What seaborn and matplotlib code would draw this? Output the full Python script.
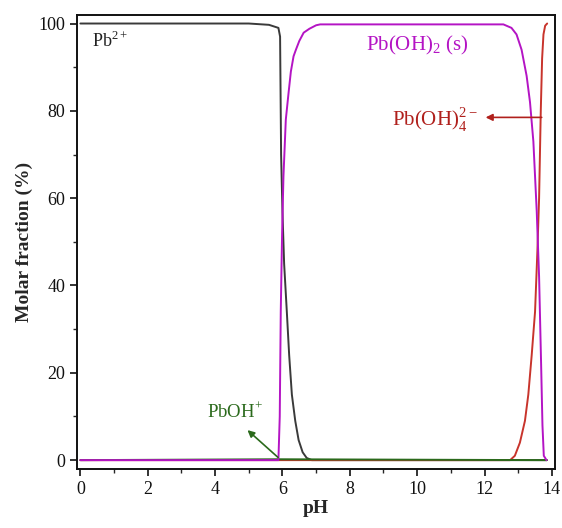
import numpy as np
import pandas as pd
import matplotlib
matplotlib.use("Agg")
import matplotlib.pyplot as plt
import seaborn as sns
from matplotlib.ticker import MultipleLocator

sns.set_style("ticks")
plt.rcParams['font.family'] = ['Liberation Serif', 'DejaVu Serif']
plt.rcParams['mathtext.fontset'] = 'custom'
plt.rcParams['mathtext.rm'] = 'Liberation Serif'

# Pb2+
ph_pb = [0.0, 5.0, 5.6, 5.88, 5.93, 5.96, 6.00, 6.05, 6.13, 6.20, 6.28, 6.38,
         6.48, 6.60, 6.72, 6.87, 13.85]
pb = [100, 100, 99.7, 99, 97, 70, 57, 45, 34, 24, 15, 9, 4.6, 1.8, 0.5, 0, 0]

# Pb(OH)2 (s)
ph_pbs = [0.0, 5.88, 5.92, 5.95, 5.99, 6.03, 6.10, 6.18, 6.25, 6.33, 6.40, 6.50,
          6.63, 6.80, 7.00, 7.12, 12.56, 12.80, 12.95, 13.10, 13.25, 13.35,
          13.45, 13.55, 13.62, 13.68, 13.72, 13.76, 13.84]
pbs = [0, 0, 10, 34, 52, 65, 78, 84, 89, 92.5, 94, 96, 97.9, 98.8, 99.6, 99.8,
       99.8, 99, 97.5, 94, 88, 82, 73, 57, 42, 22, 8, 1, 0]

# Pb(OH)4 2-
ph_pb4 = [0.0, 12.76, 12.90, 13.05, 13.20, 13.30, 13.40, 13.50, 13.57, 13.62,
          13.67, 13.71, 13.75, 13.80, 13.86]
pb4 = [0, 0, 1, 4, 9, 15, 24, 34, 48, 60, 80, 92, 97.5, 99.5, 100]

# PbOH+
ph_pboh = [0.0, 5.9, 13.85]
pboh = [0, 0.2, 0]

fig, ax = plt.subplots(figsize=(5.62, 5.28), dpi=100)

series = [
    (ph_pb, pb, '#3a3a3a'),
    (ph_pb4, pb4, '#c8342c'),
    (ph_pboh, pboh, '#2b6a1c'),
    (ph_pbs, pbs, '#b414c4'),
]
for x, y, c in series:
    d = pd.DataFrame({'pH': x, 'v': y})
    sns.lineplot(data=d, x='pH', y='v', ax=ax, color=c, lw=1.4,
                 estimator=None, sort=False)

ax.text(0.35, 96, r'Pb$^{2+}$', fontsize=13, color='#222222', va='center')
ax.text(10.0, 95, r'Pb(OH)$_2$ (s)', fontsize=15, color='#b414c4',
        ha='center', va='center')
ax.text(11.8, 78, r'Pb(OH)$_4^{2-}$', fontsize=15, color='#b0201c',
        ha='right', va='center')
ax.annotate('', xy=(11.95, 78.5), xytext=(13.78, 78.5),
            arrowprops=dict(arrowstyle='-|>', color='#b0201c', lw=1.2,
                            mutation_scale=10))
ax.text(4.6, 11, r'PbOH$^{+}$', fontsize=13.5, color='#2b6a1c',
        ha='center', va='center')
ax.annotate('', xy=(4.9, 7.3), xytext=(5.93, 0.2),
            arrowprops=dict(arrowstyle='-|>', color='#2b6a1c', lw=1.2,
                            mutation_scale=10))

ax.set_xlim(-0.1, 14.1)
ax.set_ylim(-2, 102)
ax.xaxis.set_major_locator(MultipleLocator(2))
ax.xaxis.set_minor_locator(MultipleLocator(1))
ax.yaxis.set_major_locator(MultipleLocator(20))
ax.yaxis.set_minor_locator(MultipleLocator(10))
ax.tick_params(which='major', direction='out', length=5, width=1.2, labelsize=13,
               colors='#111111')
ax.tick_params(which='minor', direction='out', length=3, width=1.0)
for s in ax.spines.values():
    s.set_visible(True)
    s.set_linewidth(1.4)
    s.set_color('#111111')

ax.set_xlabel('pH', fontsize=14, fontweight='bold', labelpad=2)
ax.set_ylabel('Molar fraction (%)', fontsize=14, fontweight='bold', labelpad=4)

fig.subplots_adjust(left=0.137, right=0.988, top=0.972, bottom=0.112)
fig.savefig('out.png', dpi=100)
